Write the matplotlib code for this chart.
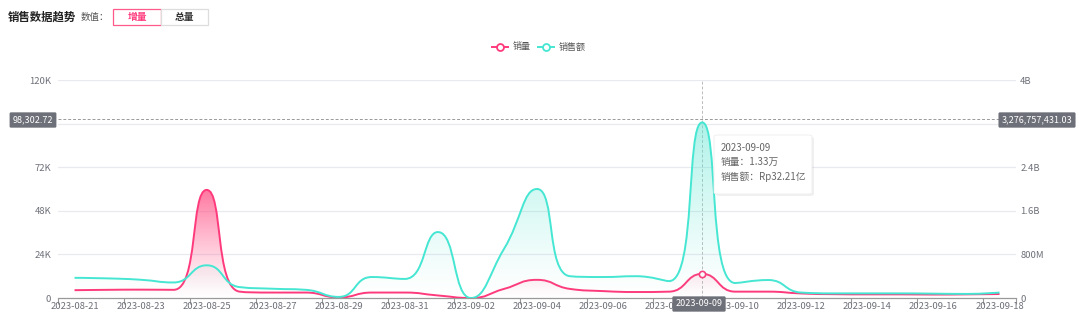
import matplotlib
matplotlib.use('Agg')
import matplotlib.pyplot as plt
from matplotlib.path import Path
from matplotlib.patches import PathPatch, Rectangle, FancyBboxPatch
from matplotlib.lines import Line2D
import numpy as np

plt.rcParams['font.family'] = ['Noto Sans CJK SC', 'DejaVu Sans']

# data: 2023-08-21 .. 2023-09-18
dates = ['2023-08-21', '2023-08-22', '2023-08-23', '2023-08-24', '2023-08-25', '2023-08-26',
         '2023-08-27', '2023-08-28', '2023-08-29', '2023-08-30', '2023-08-31', '2023-09-01',
         '2023-09-02', '2023-09-03', '2023-09-04', '2023-09-05', '2023-09-06', '2023-09-07',
         '2023-09-08', '2023-09-09', '2023-09-10', '2023-09-11', '2023-09-12', '2023-09-13',
         '2023-09-14', '2023-09-15', '2023-09-16', '2023-09-17', '2023-09-18']
sales_qty = [4300, 4500, 4600, 4500, 59500, 3500, 3000, 3000, 300, 3000, 3000, 1400,
             0, 5000, 10000, 5000, 3800, 3300, 3500, 13300, 3500, 3500, 2500, 2100,
             2000, 2000, 1900, 2000, 2200]
sales_amt = [370e6, 360e6, 335e6, 285e6, 600e6, 200e6, 170e6, 150e6, 20e6, 385e6, 350e6, 1.21e9,
             0, 900e6, 2.0e9, 400e6, 385e6, 400e6, 310e6, 3.221e9, 275e6, 330e6, 100e6, 85e6,
             85e6, 85e6, 80e6, 75e6, 100e6]

left_ticks = [0, 24000, 48000, 72000, 96000, 120000]
left_labels = ['0', '24K', '48K', '72K', '', '120K']
right_ticks = [0, 800e6, 1.6e9, 2.4e9, 3.2e9, 4e9]
right_labels = ['0', '800M', '1.6B', '2.4B', '', '4B']

PINK = '#FF3A7C'
CYAN = '#45E6D2'
W, H = 1080, 331


def bezier_path(xs, ys, sx, sy, smooth=0.5):
    # echarts-like smooth line, computed in pixel space
    px = np.asarray(xs, float) * sx
    py = np.asarray(ys, float) * sy
    n = len(px)
    verts = [(px[0], py[0])]
    codes = [Path.MOVETO]
    cp0 = (px[0], py[0])
    for k in range(1, n):
        x, y = px[k], py[k]
        prx, pry = px[k - 1], py[k - 1]
        if k == n - 1:
            cp1 = (x, y)
            ncp = (x, y)
        else:
            nx_, ny_ = px[k + 1], py[k + 1]
            vx, vy = nx_ - prx, ny_ - pry
            lp = np.hypot(x - prx, y - pry)
            ln = np.hypot(nx_ - x, ny_ - y)
            r = ln / (ln + lp)
            ncx = x + vx * smooth * r
            ncy = y + vy * smooth * r
            ncx = max(min(ncx, max(nx_, x)), min(nx_, x))
            ncy = max(min(ncy, max(ny_, y)), min(ny_, y))
            vx, vy = ncx - x, ncy - y
            c1x = x - vx * lp / ln
            c1y = y - vy * lp / ln
            c1x = max(min(c1x, max(prx, x)), min(prx, x))
            c1y = max(min(c1y, max(pry, y)), min(pry, y))
            vx, vy = x - c1x, y - c1y
            cp1 = (c1x, c1y)
            ncp = (x + vx * ln / lp, y + vy * ln / lp)
        verts += [cp0, cp1, (x, y)]
        codes += [Path.CURVE4] * 3
        cp0 = ncp
    verts = [(a / sx, b / sy) for a, b in verts]
    return verts, codes


def draw_series(ax, xs, ys, ymax, color, rgb, a_top, zl):
    sx = 33.0
    sy = 218.0 / ymax
    verts, codes = bezier_path(xs, ys, sx, sy)
    line = PathPatch(Path(verts, codes), fill=False, ec=color, lw=1.4, zorder=zl + 1)
    ax.add_patch(line)
    fverts = verts + [(xs[-1], 0), (xs[0], 0), (xs[0], 0)]
    fcodes = codes + [Path.LINETO, Path.LINETO, Path.CLOSEPOLY]
    area = PathPatch(Path(fverts, fcodes), fc='none', ec='none', transform=ax.transData)
    ax.add_patch(area)
    top = max(ys)
    g = np.zeros((256, 1, 4))
    g[:, 0, 0] = rgb[0]
    g[:, 0, 1] = rgb[1]
    g[:, 0, 2] = rgb[2]
    g[:, 0, 3] = np.linspace(0.0, a_top, 256) ** 1.2
    im = ax.imshow(g, extent=(xs[0], xs[-1], 0, top), origin='lower', aspect='auto',
                   interpolation='bilinear', zorder=zl)
    im.set_clip_path(area)


fig = plt.figure(figsize=(W / 100, H / 100), dpi=100)
ax = fig.add_axes([58 / W, 1 - 298 / H, (1016 - 58) / W, (298 - 80) / H])
ax2 = ax.twinx()

x = np.arange(len(dates))

ax.set_xlim(-0.5, len(dates) - 0.5)
ax.set_ylim(0, 120000)
ax2.set_ylim(0, 4e9)

for t in left_ticks[1:]:
    ax.axhline(t, color='#E9E9F0', lw=0.9, zorder=0)

draw_series(ax, x, sales_qty, 120000, PINK, (1.0, 0.35, 0.55), 0.85, 2)
draw_series(ax2, x, sales_amt, 4e9, CYAN, (0.35, 0.90, 0.82), 0.55, 2)

# hover marker
ax.plot([19], [sales_qty[19]], 'o', ms=4.5, mfc='white', mec=PINK, mew=1.2, zorder=6)

# crosshair
ax.axhline(98302.72, color='#999999', lw=0.7, ls=(0, (3, 2)), zorder=5)
ax.axvline(19, color='#BBBBBB', lw=0.7, ls=(0, (3, 2)), zorder=5)

ax.set_yticks(left_ticks)
ax.set_yticklabels(left_labels)
ax2.set_yticks(right_ticks)
ax2.set_yticklabels(right_labels)
ax.tick_params(axis='y', length=0, labelsize=6.8, labelcolor='#6E7079', pad=5)
ax2.tick_params(axis='y', length=0, labelsize=6.8, labelcolor='#6E7079', pad=3)

ax.set_xticks(list(np.arange(-0.5, len(dates), 2)) + [len(dates) - 0.5])
ax.set_xticklabels([])
ax.set_xticks(x[::2], minor=True)
ax.set_xticklabels(dates[::2], minor=True)
ax.tick_params(axis='x', which='major', length=4, color='#999999', width=0.8)
ax.tick_params(axis='x', which='minor', length=0, labelsize=6.8, labelcolor='#6E7079', pad=3)

for a in (ax, ax2):
    for s in ('top', 'left', 'right', 'bottom'):
        a.spines[s].set_visible(False)
ax.spines['bottom'].set_visible(True)
ax.spines['bottom'].set_color('#999999')
ax.spines['bottom'].set_linewidth(0.9)


def fx(px):
    return px / W


def fy(py):
    return 1 - py / H


# header
fig.text(fx(8), fy(17), '销售数据趋势', fontsize=8.2, fontweight='bold', color='#222222', va='center')
fig.text(fx(81), fy(17), '数值：', fontsize=6.8, color='#555555', va='center')
fig.patches.append(Rectangle((fx(113), fy(25)), fx(48), 16 / H, transform=fig.transFigure,
                             fc='white', ec='#FF5A8C', lw=0.9))
fig.patches.append(Rectangle((fx(161), fy(25)), fx(47), 16 / H, transform=fig.transFigure,
                             fc='white', ec='#DDDDDD', lw=0.9))
fig.text(fx(137), fy(17), '增量', fontsize=7, color='#FF3A7C', fontweight='bold', ha='center', va='center')
fig.text(fx(184.5), fy(17), '总量', fontsize=7, color='#333333', fontweight='bold', ha='center', va='center')

# legend
for x0, col, lab in ((492, PINK, '销量'), (538, CYAN, '销售额')):
    fig.lines.append(Line2D([fx(x0), fx(x0 + 16)], [fy(47), fy(47)], transform=fig.transFigure,
                            color=col, lw=1.4))
    fig.lines.append(Line2D([fx(x0 + 8)], [fy(47)], transform=fig.transFigure, marker='o', ms=5,
                            mfc='white', mec=col, mew=1.3))
    fig.text(fx(x0 + 21), fy(47), lab, fontsize=6.5, color='#555555', va='center')

# axis pointer labels
lbl = dict(boxstyle='round,pad=0.35,rounding_size=0.15', fc='#6E7079', ec='none')
fig.text(fx(33), fy(120), '98,302.72', fontsize=6.5, color='white', ha='center', va='center', bbox=lbl)
fig.text(fx(1037), fy(120), '3,276,757,431.03', fontsize=6.5, color='white', ha='center', va='center', bbox=lbl)
fig.text(fx(699), fy(304), '2023-09-09', fontsize=6.5, color='white', ha='center', va='center', bbox=lbl,
         zorder=10)

# tooltip
fig.patches.append(FancyBboxPatch((fx(716), fy(196)), fx(98), 59 / H, transform=fig.transFigure,
                                  boxstyle='round,pad=0,rounding_size=0.004', fc='#000000', alpha=0.06,
                                  ec='none'))
fig.patches.append(FancyBboxPatch((fx(714), fy(194)), fx(98), 59 / H, transform=fig.transFigure,
                                  boxstyle='round,pad=0,rounding_size=0.004', fc='white', ec='#EEEEEE',
                                  lw=0.6))
fig.text(fx(721), fy(148), '2023-09-09', fontsize=7, color='#666666', va='center')
fig.text(fx(721), fy(162), '销量：1.33万', fontsize=7, color='#666666', va='center')
fig.text(fx(721), fy(177), '销售额：Rp32.21亿', fontsize=7, color='#666666', va='center')

fig.savefig('out.png', dpi=100)
